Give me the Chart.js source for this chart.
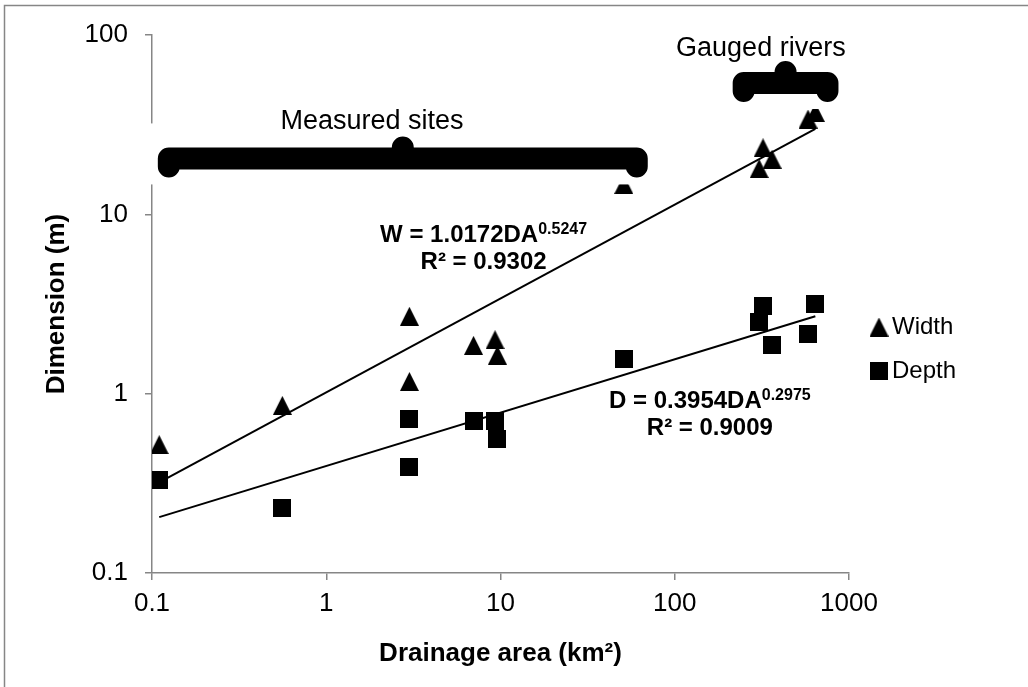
<!DOCTYPE html>
<html>
<head>
<meta charset="utf-8">
<title>Channel dimension vs drainage area</title>
<script src="https://cdn.jsdelivr.net/npm/chart.js@4.4.0/dist/chart.umd.min.js"></script>
<style>
  html, body { margin: 0; padding: 0; background: #fff; }
  #wrap { width: 1028px; height: 687px; }
</style>
</head>
<body>
<div id="wrap"><canvas id="dimChart" width="1028" height="687"></canvas></div>
<script>
// Drainage area of each site (km2)
const drainageArea = [0.11, 0.56, 3.0, 3.0, 7.0, 9.3, 9.6, 51, 305, 321, 362, 582, 641];
// Channel width (m)
const widthM = [0.52, 0.86, 2.7, 1.17, 1.86, 2.0, 1.64, 14.7, 18, 23.5, 20.3, 34, 37];
// Channel depth (m)
const depthM = [0.33, 0.23, 0.72, 0.39, 0.70, 0.70, 0.56, 1.57, 2.51, 3.07, 1.88, 2.14, 3.15];

// Power-law trend lines (straight on log-log), end points
const trendArea = [0.11, 641];
const widthTrend = [0.32, 30];
const depthTrend = [0.205, 2.7];

// Tick labels
const xTicks = [0.1, 1, 10, 100, 1000];
const yTicks = [0.1, 1, 10, 100];

// Annotations (data coordinates)
const braceNotes = [
  { text: "Measured sites", from: 0.108, to: 70, at: 20.5, labelX: 1.83, labelY: 33 },
  { text: "Gauged rivers", from: 215, to: 870, at: 54, labelX: 312, labelY: 84 }
];
const fitNotes = [
  { eq: "W = 1.0172DA", pow: "0.5247", r2: "R² = 0.9302", x: 8.0, y: 7.6 },
  { eq: "D = 0.3954DA", pow: "0.2975", r2: "R² = 0.9009", x: 159, y: 0.906 }
];

const FONT = '"Liberation Sans", Arial, sans-serif';
Chart.defaults.font.family = FONT;
Chart.defaults.color = "#000";

// Excel-like markers, centred on the point
function makeTriangle(size) {
  const c = document.createElement("canvas");
  c.width = size; c.height = size;
  const g = c.getContext("2d");
  g.fillStyle = "#000";
  g.beginPath();
  g.moveTo(size / 2, 0);
  g.lineTo(size, size);
  g.lineTo(0, size);
  g.closePath();
  g.fill();
  return c;
}
function makeSquare(size) {
  const c = document.createElement("canvas");
  c.width = size; c.height = size;
  const g = c.getContext("2d");
  g.fillStyle = "#000";
  g.fillRect(0, 0, size, size);
  return c;
}
const triangleMark = makeTriangle(19);
const squareMark = makeSquare(18);

function drawBrace(ctx, xl, xr, yc) {
  const w = 22;
  const xm = (xl + xr) / 2;
  // white box behind brace (hides axis and marker tops like the original)
  ctx.fillStyle = "#fff";
  ctx.fillRect(xl - 18, yc - 35, xr - xl + 30, 61);
  ctx.strokeStyle = "#000";
  ctx.lineWidth = w;
  ctx.lineCap = "round";
  ctx.lineJoin = "round";
  ctx.beginPath();
  ctx.moveTo(xl + w / 2, yc + 8);
  ctx.lineTo(xl + w / 2, yc);
  ctx.lineTo(xr - w / 2, yc);
  ctx.lineTo(xr - w / 2, yc + 8);
  ctx.moveTo(xm, yc);
  ctx.lineTo(xm, yc - 11);
  ctx.stroke();
}

const notesPlugin = {
  id: "notes",
  afterDatasetsDraw(chart) {
    const { ctx, scales: { x, y } } = chart;
    ctx.save();

    // braces + labels
    braceNotes.forEach(n => {
      const xl = x.getPixelForValue(n.from);
      const xr = x.getPixelForValue(n.to);
      const yc = y.getPixelForValue(n.at);
      drawBrace(ctx, xl, xr, yc);
      ctx.fillStyle = "#000";
      ctx.font = "27px " + FONT;
      ctx.textAlign = "center";
      ctx.textBaseline = "middle";
      ctx.fillText(n.text, x.getPixelForValue(n.labelX), y.getPixelForValue(n.labelY));
    });

    // trend equations
    fitNotes.forEach(n => {
      const cx = x.getPixelForValue(n.x);
      const cy = y.getPixelForValue(n.y);
      ctx.fillStyle = "#000";
      ctx.textBaseline = "middle";
      ctx.font = "bold 24px " + FONT;
      const w1 = ctx.measureText(n.eq).width;
      ctx.font = "bold 16px " + FONT;
      const w2 = ctx.measureText(n.pow).width;
      const x0 = cx - (w1 + w2) / 2;
      ctx.textAlign = "left";
      ctx.font = "bold 24px " + FONT;
      ctx.fillText(n.eq, x0, cy);
      ctx.font = "bold 16px " + FONT;
      ctx.fillText(n.pow, x0 + w1, cy - 6);
      ctx.textAlign = "center";
      ctx.font = "bold 24px " + FONT;
      ctx.fillText(n.r2, cx, cy + 27);
    });
    ctx.restore();
  },
  afterDraw(chart) {
    const { ctx } = chart;
    ctx.save();
    // legend on the right
    const items = chart.data.datasets.filter(d => d.type === "scatter");
    items.forEach((d, i) => {
      const ly = 327 + i * 44;
      const img = d.pointStyle;
      ctx.drawImage(img, 879 - img.width / 2, ly - img.height / 2);
      ctx.fillStyle = "#000";
      ctx.font = "24px " + FONT;
      ctx.textAlign = "left";
      ctx.textBaseline = "middle";
      ctx.fillText(d.label, 892, ly);
    });
    // outer frame
    ctx.strokeStyle = "#868686";
    ctx.lineWidth = 1.5;
    ctx.strokeRect(4.5, 5.5, 1040, 700);
    ctx.restore();
  }
};

const bgPlugin = {
  id: "bg",
  beforeDraw(chart) {
    const { ctx, width, height } = chart;
    ctx.save();
    ctx.fillStyle = "#fff";
    ctx.fillRect(0, 0, width, height);
    ctx.restore();
  }
};

const axisGray = "#868686";

const ctx = document.getElementById("dimChart").getContext("2d");
const dimChart = new Chart(ctx, {
  type: "scatter",
  data: {
    datasets: [
      {
        type: "scatter",
        label: "Width",
        data: drainageArea.map((a, i) => ({ x: a, y: widthM[i] })),
        pointStyle: triangleMark,
        pointRadius: 10,
        order: 2
      },
      {
        type: "scatter",
        label: "Depth",
        data: drainageArea.map((a, i) => ({ x: a, y: depthM[i] })),
        pointStyle: squareMark,
        pointRadius: 10,
        order: 2
      },
      {
        type: "line",
        label: "Width trend",
        data: trendArea.map((a, i) => ({ x: a, y: widthTrend[i] })),
        borderColor: "#000",
        borderWidth: 2,
        pointRadius: 0,
        fill: false,
        order: 1
      },
      {
        type: "line",
        label: "Depth trend",
        data: trendArea.map((a, i) => ({ x: a, y: depthTrend[i] })),
        borderColor: "#000",
        borderWidth: 2,
        pointRadius: 0,
        fill: false,
        order: 1
      }
    ]
  },
  options: {
    responsive: false,
    animation: false,
    layout: { padding: { left: 0, top: 35, right: 179, bottom: 0 } },
    plugins: {
      legend: { display: false },
      tooltip: { enabled: false }
    },
    scales: {
      x: {
        type: "logarithmic",
        min: 0.1,
        max: 1000,
        afterBuildTicks: s => { s.ticks = xTicks.map(v => ({ value: v })); },
        afterFit: s => { s.height = 114; },
        ticks: {
          callback: v => String(v),
          font: { size: 26 },
          color: "#000",
          padding: 8,
          autoSkip: false,
          maxRotation: 0
        },
        grid: { drawOnChartArea: false, tickLength: 7, color: axisGray, lineWidth: 1.5 },
        border: { color: axisGray, width: 1.5 },
        title: {
          display: true,
          text: "Drainage area (km²)",
          font: { size: 26, weight: "bold" },
          color: "#000",
          padding: { top: 0, bottom: 18 }
        }
      },
      y: {
        type: "logarithmic",
        min: 0.1,
        max: 100,
        afterBuildTicks: s => { s.ticks = yTicks.map(v => ({ value: v })); },
        afterFit: s => { s.width = 152; },
        ticks: {
          callback: v => String(v),
          font: { size: 26 },
          color: "#000",
          padding: 17,
          autoSkip: false
        },
        grid: { drawOnChartArea: false, tickLength: 7, color: axisGray, lineWidth: 1.5 },
        border: { color: axisGray, width: 1.5 },
        title: {
          display: true,
          text: "Dimension (m)",
          font: { size: 26, weight: "bold" },
          color: "#000",
          padding: { top: 41, bottom: 0 }
        }
      }
    }
  },
  plugins: [bgPlugin, notesPlugin]
});
</script>
</body>
</html>
